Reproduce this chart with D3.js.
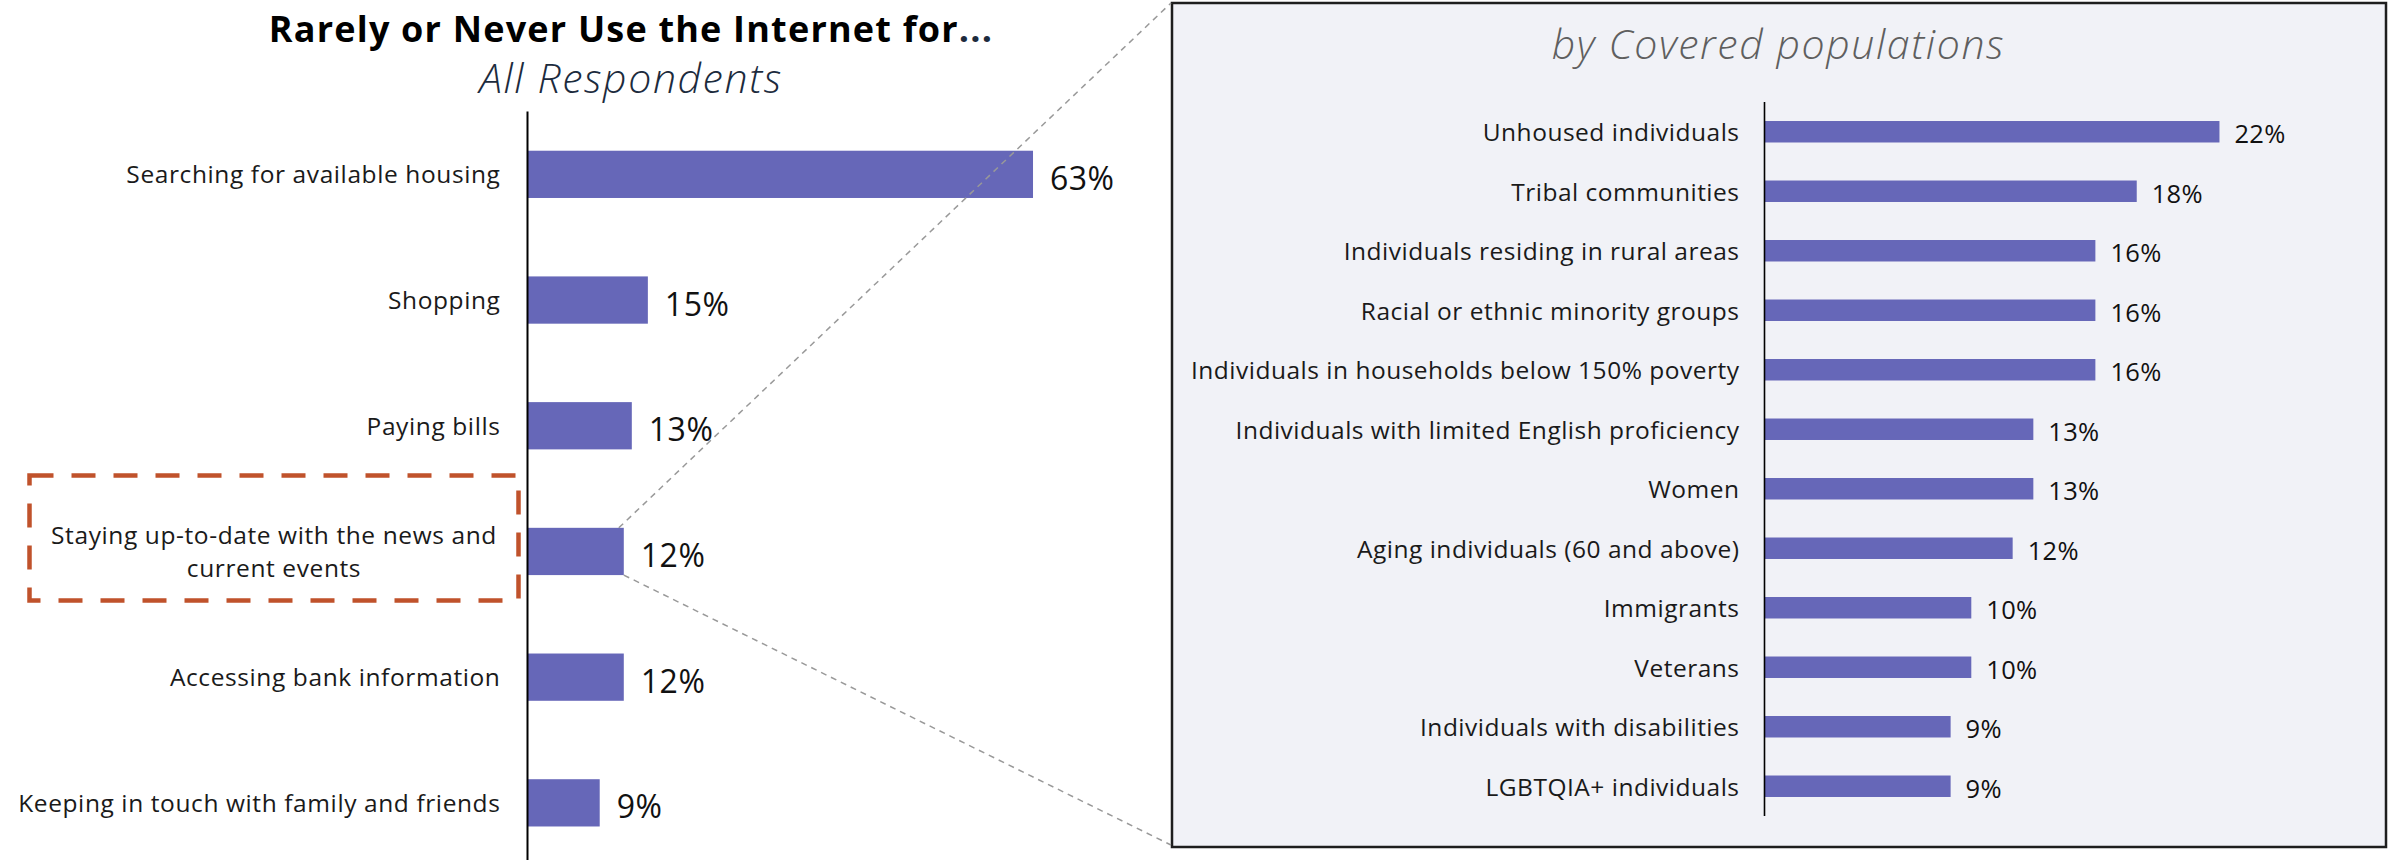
<!DOCTYPE html>
<html>
<head>
<meta charset="utf-8">
<script src="https://cdn.jsdelivr.net/npm/d3@7"></script>
<style>
  html, body { margin: 0; padding: 0; background: #ffffff; }
  svg { display: block; }
  text { font-family: "Open Sans", "Noto Sans", sans-serif; }
</style>
</head>
<body>
<svg id="chart" width="2392" height="860"></svg>
<script>
// Overall question: share who rarely or never use the internet for each activity
const overallCategories = [
  "Searching for available housing",
  "Shopping",
  "Paying bills",
  "Staying up-to-date with the news and\ncurrent events",
  "Accessing bank information",
  "Keeping in touch with family and friends"
];
const overallValues = [63, 15, 13, 12, 12, 9];

// Breakdown of the highlighted activity by covered population
const groupCategories = [
  "Unhoused individuals",
  "Tribal communities",
  "Individuals residing in rural areas",
  "Racial or ethnic minority groups",
  "Individuals in households below 150% poverty",
  "Individuals with limited English proficiency",
  "Women",
  "Aging individuals (60 and above)",
  "Immigrants",
  "Veterans",
  "Individuals with disabilities",
  "LGBTQIA+ individuals"
];
const groupValues = [22, 18, 16, 16, 16, 13, 13, 12, 10, 10, 9, 9];

const highlightIndex = 3;

const titleText = "Rarely or Never Use the Internet for";
const subtitleText = "All Respondents";
const panelTitleText = "by Covered populations";

const BAR = "#6667b8";
const fmt = v => v + "%";

const svg = d3.select("#chart");

// ---------- Left chart ----------
const left = { axisX: 527.5, top: 111.5, bottom: 865.7, pxPerPct: 8.024 };
const xL = d3.scaleLinear().domain([0, 100]).range([left.axisX, left.axisX + 100 * left.pxPerPct]);
const yL = d3.scaleBand().domain(overallCategories).range([left.top, left.bottom])
  .paddingInner(0.624).paddingOuter(0.312);

const overall = overallCategories.map((c, i) => ({ c, v: overallValues[i], i }));

// Titles
const title = svg.append("text")
  .attr("x", 631).attr("y", 42)
  .attr("text-anchor", "middle")
  .attr("font-size", 36).attr("font-weight", 700).attr("letter-spacing", 1.2)
  .attr("fill", "#000");
title.append("tspan").text(titleText);
title.append("tspan").attr("fill", "#1c2b3d").text("...");

svg.append("text")
  .attr("x", 631).attr("y", 93)
  .attr("text-anchor", "middle")
  .attr("font-size", 41).attr("font-style", "italic").attr("font-weight", 300)
  .attr("letter-spacing", 1.6)
  .attr("fill", "#1c2b3d")
  .text(subtitleText);

const gL = svg.append("g");

gL.selectAll("rect.bar").data(overall).join("rect")
  .attr("class", "bar")
  .attr("x", xL(0))
  .attr("y", d => yL(d.c))
  .attr("width", d => xL(d.v) - xL(0))
  .attr("height", yL.bandwidth())
  .attr("fill", BAR);

// Category labels (multi-line labels split on newline)
const lineH = 32.3;
gL.selectAll("text.cat").data(overall).join("text")
  .attr("class", "cat")
  .attr("font-size", 24.5)
  .attr("letter-spacing", 0.6)
  .attr("fill", "#1a1a1a")
  .each(function (d) {
    const lines = d.c.split("\n");
    const cy = yL(d.c) + yL.bandwidth() / 2;
    const multi = lines.length > 1;
    const t = d3.select(this)
      .attr("text-anchor", multi ? "middle" : "end")
      .attr("dominant-baseline", "central");
    const x = multi ? 274 : left.axisX - 27;
    lines.forEach((ln, k) => {
      t.append("tspan")
        .attr("x", x)
        .attr("y", cy + (k - (lines.length - 1) / 2) * lineH - 1)
        .text(ln);
    });
  });

gL.selectAll("text.val").data(overall).join("text")
  .attr("class", "val")
  .attr("x", d => xL(d.v) + 17)
  .attr("y", d => yL(d.c) + yL.bandwidth() / 2 + 3)
  .attr("dominant-baseline", "central")
  .attr("font-size", 32)
  .attr("letter-spacing", 0.5)
  .attr("fill", "#111")
  .text(d => fmt(d.v));

// Axis line
svg.append("line")
  .attr("x1", left.axisX).attr("x2", left.axisX)
  .attr("y1", left.top).attr("y2", 860)
  .attr("stroke", "#000").attr("stroke-width", 2);

// ---------- Right panel ----------
const panel = { x0: 1172, y0: 3, x1: 2386, y1: 847 };
const right = { axisX: 1764.5, top: 102, bottom: 816, pxPerPct: 20.68 };

// Highlight frame around the selected activity label
const hd = overall[highlightIndex];
const hc = yL(hd.c) + yL.bandwidth() / 2;
svg.append("rect")
  .attr("x", 29.5).attr("y", hc - 76)
  .attr("width", 489).attr("height", 125)
  .attr("fill", "none")
  .attr("stroke", "#c0522b").attr("stroke-width", 4.5)
  .attr("stroke-dasharray", "24 18");

svg.append("rect")
  .attr("x", panel.x0).attr("y", panel.y0)
  .attr("width", panel.x1 - panel.x0).attr("height", panel.y1 - panel.y0)
  .attr("fill", "#f1f2f7")
  .attr("stroke", "#1e1e1e").attr("stroke-width", 2.5);

svg.append("text")
  .attr("x", 1778.5).attr("y", 59)
  .attr("text-anchor", "middle")
  .attr("font-size", 41).attr("font-style", "italic").attr("font-weight", 300)
  .attr("letter-spacing", 1.6)
  .attr("fill", "#5f5f5f")
  .text(panelTitleText);

const xR = d3.scaleLinear().domain([0, 100]).range([right.axisX, right.axisX + 100 * right.pxPerPct]);
const yR = d3.scaleBand().domain(groupCategories).range([right.top, right.bottom])
  .paddingInner(0.639).paddingOuter(0.3195);
const groups = groupCategories.map((c, i) => ({ c, v: groupValues[i] }));

const gR = svg.append("g");
gR.selectAll("rect.bar").data(groups).join("rect")
  .attr("class", "bar")
  .attr("x", xR(0))
  .attr("y", d => yR(d.c))
  .attr("width", d => xR(d.v) - xR(0))
  .attr("height", yR.bandwidth())
  .attr("fill", BAR);

gR.selectAll("text.cat").data(groups).join("text")
  .attr("class", "cat")
  .attr("x", right.axisX - 25)
  .attr("y", d => yR(d.c) + yR.bandwidth() / 2)
  .attr("text-anchor", "end")
  .attr("dominant-baseline", "central")
  .attr("font-size", 24.5)
  .attr("letter-spacing", 0.5)
  .attr("fill", "#1a1a1a")
  .text(d => d.c);

gR.selectAll("text.val").data(groups).join("text")
  .attr("class", "val")
  .attr("x", d => xR(d.v) + 15)
  .attr("y", d => yR(d.c) + yR.bandwidth() / 2 + 1.5)
  .attr("dominant-baseline", "central")
  .attr("font-size", 25.5)
  .attr("letter-spacing", 0.3)
  .attr("fill", "#111")
  .text(d => fmt(d.v));

svg.append("line")
  .attr("x1", right.axisX).attr("x2", right.axisX)
  .attr("y1", right.top).attr("y2", right.bottom)
  .attr("stroke", "#000").attr("stroke-width", 1.6);

// Dashed connectors from the highlighted bar to the panel corners
const hx = xL(hd.v);
const connectors = [
  [[hx - 5, yL(hd.c)], [panel.x0 - 1, panel.y0]],
  [[hx, yL(hd.c) + yL.bandwidth()], [panel.x0 - 1, panel.y1 - 2]]
];
svg.selectAll("line.conn").data(connectors).join("line")
  .attr("class", "conn")
  .attr("x1", d => d[0][0]).attr("y1", d => d[0][1])
  .attr("x2", d => d[1][0]).attr("y2", d => d[1][1])
  .attr("stroke", "#999").attr("stroke-width", 1.5)
  .attr("stroke-dasharray", "6 5");
</script>
</body>
</html>
